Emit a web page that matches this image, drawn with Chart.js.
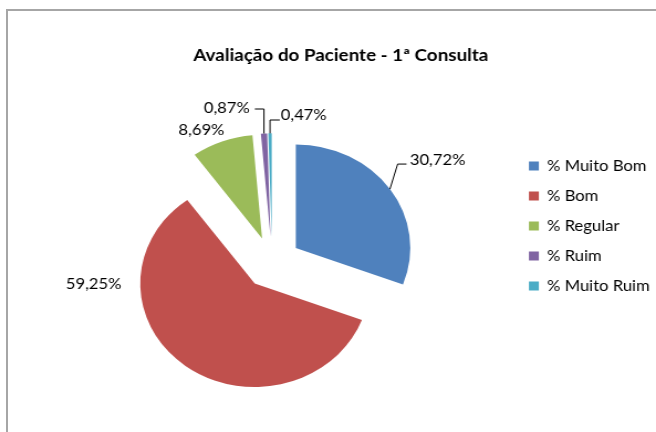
<!DOCTYPE html>
<html>
<head>
<meta charset="utf-8">
<style>
html,body{margin:0;padding:0;background:#fff;overflow:hidden;width:656px;height:432px;}
#frame{position:absolute;left:6px;top:9px;width:800px;height:600px;border:2px solid #a6a6a6;box-sizing:border-box;}
#c{position:absolute;left:0;top:0;}
</style>
<script src="https://cdn.jsdelivr.net/npm/chart.js@4"></script>
</head>
<body>
<div id="frame"></div>
<canvas id="c" width="593" height="432" style="width:656px;height:432px"></canvas>
<script>
// ---- data ----
const chartTitle = 'Avaliação do Paciente - 1ª Consulta';
const categories = ['% Muito Bom', '% Bom', '% Regular', '% Ruim', '% Muito Ruim'];
const values = [30.72, 59.25, 8.69, 0.87, 0.47];
const colors = ['#4F81BD', '#C0504D', '#9BBB59', '#8064A2', '#4BACC6'];

// ---- style / layout (canvas units; the canvas is stretched horizontally by CSS) ----
const CANVAS_W = 593;
const CX = 246.0, CY = 262.8;     // pie centre
const RADIUS = 103.5;
const EXPLODE = 26;
const LEG_FONT = 15, LEG_BOX = 9, LEG_PAD = 15;
const LEG_BOX_LEFT = 478.1;
const legendLeft = LEG_BOX_LEFT - LEG_PAD;
const areaLeft = 2 * CX - legendLeft;
const areaTop = 143.5;
const areaBottom = 2 * CY - areaTop;
const TITLE_FONT = 17;
const TITLE_CENTER_Y = 56;

const labelStyle = [
  {align: 'left',   tx: 18,    ty: -29,   leader: [[7, -25], [15, -25]]},
  {align: 'center', tx: -83,   ty: -82,   leader: null},
  {align: 'center', tx: -18.6, ty: -11.4, leader: null},
  {align: 'right',  tx: -12.9, ty: -25.2, leader: [[0, -24.5], [-8.3, -24.5]]},
  {align: 'left',   tx: 9.7,   ty: -18.3, leader: [[0, -13.3], [8.8, -13.3]]}
];

const fmt = v => v.toFixed(2).replace('.', ',') + '%';

// measure legend text to compute legend width
const mctx = document.createElement('canvas').getContext('2d');
mctx.font = LEG_FONT + 'px Lato';
let maxTw = 0;
categories.forEach(c => { maxTw = Math.max(maxTw, mctx.measureText(c).width); });
const legendW = LEG_PAD + LEG_BOX + LEG_FONT / 2 + maxTw;
const padRight = CANVAS_W - legendLeft - legendW;
const titleLH = TITLE_FONT * 1.2;
const titlePadTop = TITLE_CENTER_Y - titleLH / 2;
const titlePadBottom = areaTop - titlePadTop - titleLH;

const explodePlugin = {
  id: 'explode',
  beforeDatasetsDraw(chart) {
    const ctx = chart.ctx;
    chart.getDatasetMeta(0).data.forEach(arc => {
      const mid = (arc.startAngle + arc.endAngle) / 2;
      ctx.save();
      ctx.translate(Math.cos(mid) * EXPLODE, Math.sin(mid) * EXPLODE);
      arc.draw(ctx);
      ctx.restore();
    });
    return false;
  }
};

const labelPlugin = {
  id: 'sliceLabels',
  afterDraw(chart) {
    const ctx = chart.ctx;
    const ds = chart.data.datasets[0];
    chart.getDatasetMeta(0).data.forEach((arc, i) => {
      const st = labelStyle[i];
      const mid = (arc.startAngle + arc.endAngle) / 2;
      const ox = arc.x + Math.cos(mid) * (EXPLODE + arc.outerRadius);
      const oy = arc.y + Math.sin(mid) * (EXPLODE + arc.outerRadius);
      ctx.save();
      if (st.leader) {
        ctx.strokeStyle = '#000';
        ctx.lineWidth = 1;
        ctx.beginPath();
        ctx.moveTo(ox, oy);
        st.leader.forEach(p => ctx.lineTo(ox + p[0], oy + p[1]));
        ctx.stroke();
      }
      ctx.fillStyle = '#000';
      ctx.font = LEG_FONT + 'px Lato';
      ctx.textAlign = st.align;
      ctx.textBaseline = 'middle';
      ctx.fillText(fmt(ds.data[i]), ox + st.tx, oy + st.ty);
      ctx.restore();
    });
  }
};

new Chart(document.getElementById('c'), {
  type: 'pie',
  data: {
    labels: categories,
    datasets: [{
      data: values,
      backgroundColor: colors,
      borderWidth: 0,
      offset: 0,
      hoverOffset: 0,
      radius: RADIUS
    }]
  },
  options: {
    responsive: false,
    devicePixelRatio: 1,
    animation: false,
    events: [],
    layout: {padding: {left: areaLeft, right: padRight, top: 0, bottom: 432 - areaBottom}},
    plugins: {
      title: {
        display: true,
        text: chartTitle,
        color: '#000',
        fullSize: true,
        font: {family: 'Lato', size: TITLE_FONT, weight: 'bold', lineHeight: 1.2},
        padding: {top: titlePadTop, bottom: titlePadBottom}
      },
      legend: {
        position: 'right',
        align: 'start',
        fullSize: false,
        maxWidth: legendW,
        labels: {
          color: '#000',
          boxWidth: LEG_BOX,
          boxHeight: LEG_BOX,
          padding: LEG_PAD,
          font: {family: 'Lato', size: LEG_FONT}
        }
      },
      tooltip: {enabled: false}
    }
  },
  plugins: [explodePlugin, labelPlugin]
});
</script>
</body>
</html>
